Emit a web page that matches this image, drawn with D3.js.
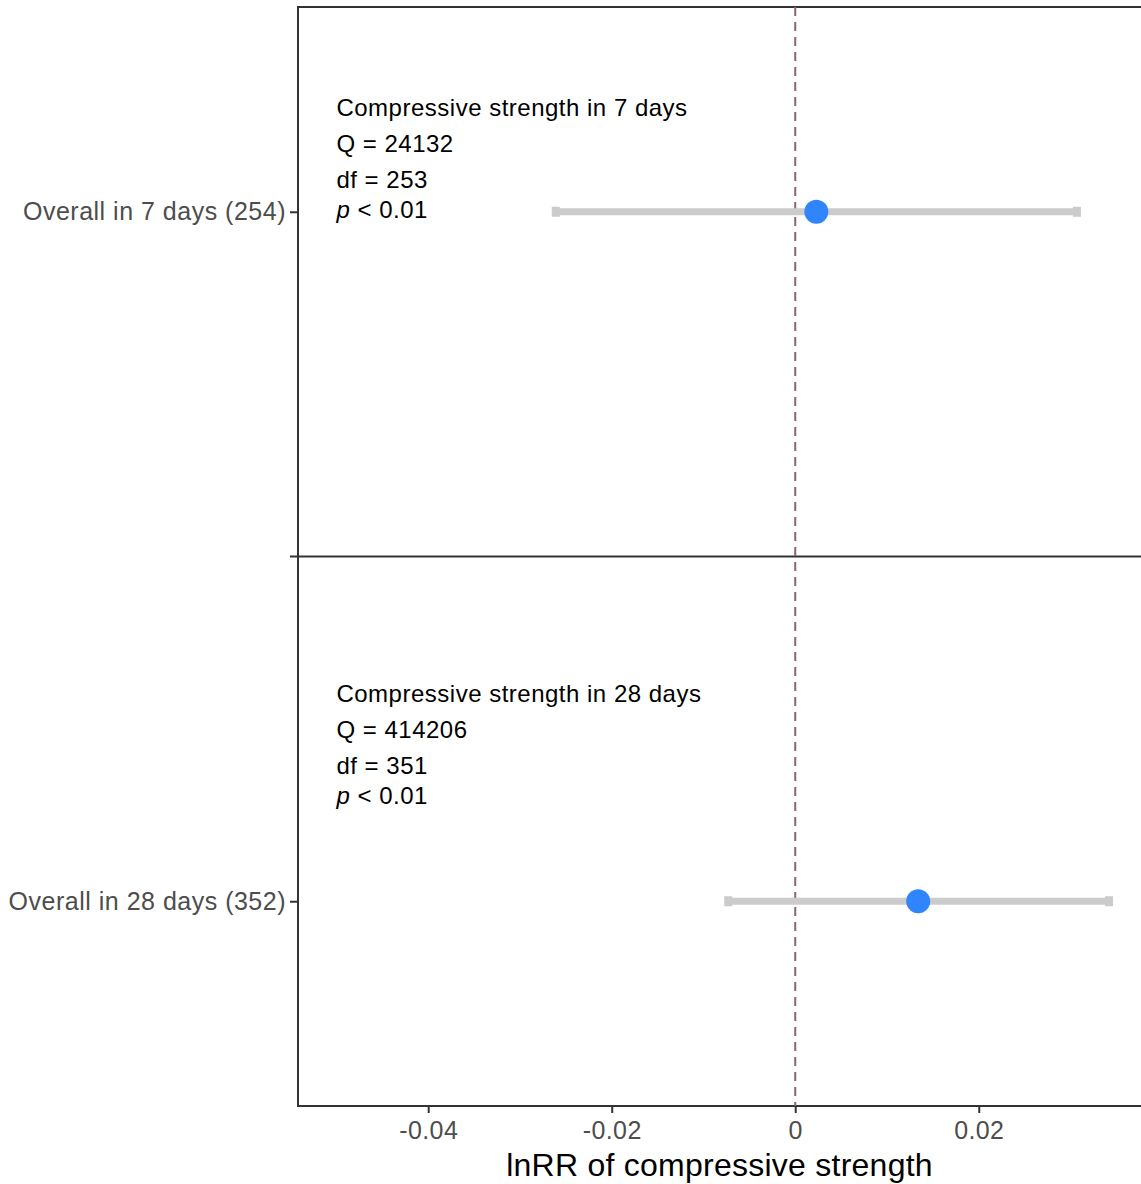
<!DOCTYPE html>
<html>
<head>
<meta charset="utf-8">
<script src="https://cdn.jsdelivr.net/npm/d3@7"></script>
<style>
  body { margin: 0; background: #fff; }
  svg { display: block; font-family: "Liberation Sans", Arial, sans-serif; }
</style>
</head>
<body>
<div id="chart"></div>
<script>
// data
const groups = ["Overall in 7 days (254)", "Overall in 28 days (352)"];
const estimate = [0.0023, 0.0134];
const lower = [-0.0261, -0.0073];
const upper = [0.0307, 0.0342];
const xTicks = [-0.04, -0.02, 0, 0.02];
const xTickLabels = ["-0.04", "-0.02", "0", "0.02"];

// annotation blocks: title, Q, df, p
const annTitle = ["Compressive strength in 7 days", "Compressive strength in 28 days"];
const annQ = ["Q = 24132", "Q = 414206"];
const annDf = ["df = 253", "df = 351"];
const annP = ["0.01", "0.01"];
const annX = -0.05;
const annY = [0.861, 1.711];   // in row units (row 1 = 7 days, row 2 = 28 days)

const W = 1141, H = 1184;
const margin = {top: 7, right: -2, bottom: 78, left: 298};
const width = W - margin.left - margin.right,
      height = H - margin.top - margin.bottom;

const svg = d3.select("#chart").append("svg")
    .attr("width", W)
    .attr("height", H);
const g = svg.append("g")
    .attr("transform", `translate(${margin.left},${margin.top})`);

const x = d3.scaleLinear()
    .domain([-0.05419, 0.0379])
    .range([0, width]);
const y = d3.scalePoint()
    .domain(groups)
    .range([0, height])
    .padding(0.297);
// continuous version of the rows for the annotations
const yRow = d3.scaleLinear().domain([1, 2]).range([y(groups[0]), y(groups[1])]);

// panel border
g.append("rect")
    .attr("width", width)
    .attr("height", height)
    .attr("fill", "none")
    .attr("stroke", "#333")
    .attr("stroke-width", 2);

// divider between the two rows
const mid = (y(groups[0]) + y(groups[1])) / 2;
g.append("line")
    .attr("x1", -8).attr("x2", width)
    .attr("y1", mid).attr("y2", mid)
    .attr("stroke", "#333")
    .attr("stroke-width", 2);

// zero reference line
g.append("line")
    .attr("x1", x(0)).attr("x2", x(0))
    .attr("y1", 0).attr("y2", height)
    .attr("stroke", "#86686c")
    .attr("stroke-width", 2)
    .attr("stroke-dasharray", "9,6");

// x axis
const xAxis = g.append("g")
    .attr("transform", `translate(0,${height})`)
    .call(d3.axisBottom(x).tickValues(xTicks).tickFormat((d, i) => xTickLabels[i]).tickSize(7).tickPadding(8));
xAxis.select(".domain").remove();
xAxis.selectAll(".tick line").attr("stroke", "#333").attr("stroke-width", 2);
xAxis.selectAll(".tick text")
    .attr("fill", "#4d4d4d")
    .style("font-size", "25px")
    .style("letter-spacing", "0.4px")
    .style("font-family", "'Liberation Sans', Arial, sans-serif");

// y axis
const yAxis = g.append("g")
    .call(d3.axisLeft(y).tickSize(8).tickPadding(4));
yAxis.select(".domain").remove();
yAxis.selectAll(".tick line").attr("stroke", "#333").attr("stroke-width", 2);
yAxis.selectAll(".tick text")
    .attr("fill", "#4d4d4d")
    .style("font-size", "25px")
    .style("letter-spacing", "0.5px")
    .style("font-family", "'Liberation Sans', Arial, sans-serif");

// error bars
const rows = groups.map((d, i) => ({g: d, est: estimate[i], lo: lower[i], hi: upper[i]}));
g.selectAll(".ci")
  .data(rows)
  .enter().append("line")
    .attr("class", "ci")
    .attr("x1", d => x(d.lo)).attr("x2", d => x(d.hi))
    .attr("y1", d => y(d.g)).attr("y2", d => y(d.g))
    .attr("stroke", "#cbcbcb")
    .attr("stroke-width", 7);
g.selectAll(".cap")
  .data(rows.flatMap(d => [{g: d.g, v: d.lo}, {g: d.g, v: d.hi}]))
  .enter().append("rect")
    .attr("class", "cap")
    .attr("x", d => x(d.v) - 4)
    .attr("y", d => y(d.g) - 5)
    .attr("width", 8)
    .attr("height", 10)
    .attr("fill", "#cbcbcb");

// points
g.selectAll(".pt")
  .data(rows)
  .enter().append("circle")
    .attr("class", "pt")
    .attr("cx", d => x(d.est))
    .attr("cy", d => y(d.g))
    .attr("r", 12)
    .attr("fill", "#3085fd");

// annotations
annTitle.forEach((t, i) => {
    const ax = x(annX), ay = yRow(annY[i]);
    const txt = g.append("g").attr("font-size", "24px").attr("fill", "#000")
        .style("letter-spacing", "0.5px");
    txt.append("text").attr("x", ax).attr("y", ay).text(t);
    txt.append("text").attr("x", ax).attr("y", ay + 36).text(annQ[i]);
    txt.append("text").attr("x", ax).attr("y", ay + 72).text(annDf[i]);
    const p = txt.append("text").attr("x", ax).attr("y", ay + 102);
    p.append("tspan").attr("font-style", "italic").text("p");
    p.append("tspan").text(" < " + annP[i]);
});

// x axis title
svg.append("text")
    .attr("x", margin.left + (W - margin.left) / 2)
    .attr("y", 1176)
    .attr("text-anchor", "middle")
    .attr("font-size", "32px")
    .attr("fill", "#000")
    .style("letter-spacing", "0.25px")
    .text("lnRR of compressive strength");
</script>
</body>
</html>
